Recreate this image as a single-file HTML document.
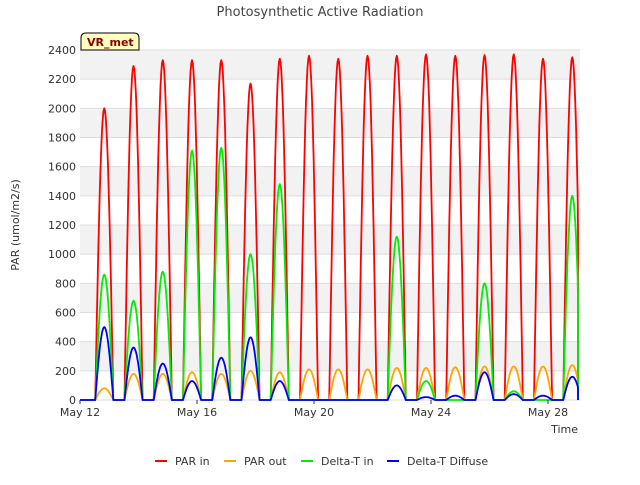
<!DOCTYPE html>
<html><head><meta charset="utf-8"><style>
body{margin:0;background:#fff;font-family:"Liberation Sans","DejaVu Sans",sans-serif}
svg text{font-family:"DejaVu Sans","Liberation Sans",sans-serif}
</style></head><body>
<svg id="c" width="640" height="480" xmlns="http://www.w3.org/2000/svg">
<rect width="640" height="480" fill="#fff"/>
<text x="320" y="16" text-anchor="middle" font-size="13" fill="#444">Photosynthetic Active Radiation</text>
<g id="grid"></g>
<g id="series"></g>
<g id="axes"></g>
<text x="19" y="225" transform="rotate(-90 19 225)" text-anchor="middle" font-size="11" fill="#333">PAR (umol/m2/s)</text>
<text x="578" y="433" text-anchor="end" font-size="11" fill="#333">Time</text>
<g>
<path d="M81 50 L81 38 Q81 33 86 33 L134 33 Q139 33 139 38 L139 50 Z" fill="#ffffc0" stroke="#000" stroke-width="1"/>
<text x="87" y="46" font-size="11" font-weight="bold" fill="#8b0000">VR_met</text></g>
<g id="legend"></g>
</svg>
<script>
const days=[12,13,14,15,16,17,18,19,20,21,22,23,24,25,26,27,28];
const parIn=[2000,2290,2330,2330,2330,2170,2340,2360,2340,2360,2360,2370,2360,2365,2370,2340,2350];
const parOut=[80,180,180,190,180,200,190,210,210,210,220,220,225,230,230,230,240];
const deltaTIn=[860,680,880,1710,1730,1000,1480,0,0,0,1120,130,0,800,60,0,1400];
const diffuse=[500,360,250,130,290,430,130,0,0,0,100,20,30,190,40,30,160];
const yTicks=[0,200,400,600,800,1000,1200,1400,1600,1800,2000,2200,2400];
const xTicks=[12,16,20,24,28];
const xTickLabels=["May 12","May 16","May 20","May 24","May 28"];
const NS="http://www.w3.org/2000/svg";
const X0=80,X1=580,Y0=400,Y1=50;
const xs=t=>X0+(t-12)*(548-80)/16;
const ys=v=>Y0-v*(Y0-Y1)/2400;
function mk(tag,attrs,parent){const e=document.createElementNS(NS,tag);for(const k in attrs)e.setAttribute(k,attrs[k]);parent.appendChild(e);return e;}
const grid=document.getElementById('grid'),axes=document.getElementById('axes'),ser=document.getElementById('series'),leg=document.getElementById('legend');
for(let i=0;i<yTicks.length-1;i++){
 const r=mk('rect',{x:X0,y:ys(yTicks[i+1]),width:X1-X0,height:ys(yTicks[i])-ys(yTicks[i+1]),fill:(i%2==1)?'#f2f2f2':'#fff'},grid);
 
 
}
yTicks.forEach(v=>{
 const l=mk('line',{x1:X0,x2:X1,y1:ys(v),y2:ys(v),stroke:'#ddd'},grid);
 
 
 const t=mk('text',{x:X0-4,y:ys(v)+4,'text-anchor':'end','font-size':11,fill:'#333'},axes);t.textContent=v;
 
 
});
xTicks.forEach((d,i)=>{
 mk('line',{x1:xs(d),x2:xs(d),y1:Y0,y2:Y0+4,stroke:'#333'},axes);
 const t=mk('text',{x:xs(d),y:Y0+16,'text-anchor':'middle','font-size':11,fill:'#333'},axes);t.textContent=xTickLabels[i];
 
 
});
function series(vals,color,name,w){
 let d='M'+X0+' '+ys(0);
 days.forEach((day,i)=>{
  const s=day+0.52,e=day+1.14;
  d+=' L'+xs(s).toFixed(1)+' '+ys(0);
  for(let k=0;k<=24;k++){const t=s+(e-s)*k/24;const v=vals[i]*Math.sin(Math.PI*k/24);
   const xx=Math.min(xs(t),578);d+=' L'+xx.toFixed(1)+' '+ys(v).toFixed(1);}
 });
 const p=mk('path',{d:d,fill:'none',stroke:color,'stroke-width':w,'stroke-linejoin':'round'},ser);
 
 
}
series(parIn,'#ff0000','par-in-line',1.8);
series(parOut,'#ffa500','par-out-line',1.8);
series(deltaTIn,'#00ee00','delta-t-in-line',1.8);
series(diffuse,'#0000ff','delta-t-diffuse-line',1.8);
const lg=[['PAR in','#ff0000',155],['PAR out','#ffa500',224],['Delta-T in','#00ee00',301],['Delta-T Diffuse','#0000ff',387]];
lg.forEach(([n,c,x])=>{
 const g=mk('g',{},leg);
 
 
 mk('line',{x1:x,x2:x+12,y1:461,y2:461,stroke:c,'stroke-width':2},g);
 const t=mk('text',{x:x+20,y:465,'font-size':11,fill:'#333'},g);t.textContent=n;
});
</script>
</body></html>
